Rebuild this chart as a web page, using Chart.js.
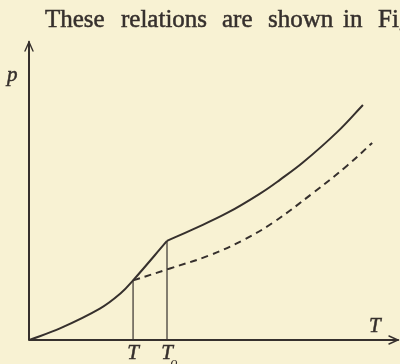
<!DOCTYPE html>
<html>
<head>
<meta charset="utf-8">
<script src="https://cdn.jsdelivr.net/npm/chart.js@4.4.1/dist/chart.umd.min.js"></script>
<style>
html,body{margin:0;padding:0;background:#f8f2d3}
#wrap{width:400px;height:364px;position:relative}
</style>
</head>
<body>
<div id="wrap"><canvas id="grafico" width="400" height="364"></canvas></div>
<script>
// temperatura (T) e pressão (p) em unidades arbitrárias
let curvaBaixaT=[0,0.84,1.92,2.47,2.82,3.74]
let curvaBaixaP=[0,0.31,0.84,1.24,1.60,2.66]

let curvaAltaT=[3.74,4.44,5.37,6.26,6.80,7.43,8.35,9.05]
let curvaAltaP=[2.66,2.97,3.41,3.93,4.30,4.77,5.58,6.31]

let tracejadaT=[2.82,3.82,4.91,5.80,6.61,7.70,8.62,9.30]
let tracejadaP=[1.60,1.92,2.28,2.68,3.15,3.95,4.68,5.29]

let marcasT=[2.82,3.74]
let marcasRotulo=['T','T']
let marcasIndice=['','o']

const COR='#36302d'

function pontos(xs,ys){
return xs.map((x,i)=>({x:x,y:ys[i]}))
}

let datasets=[
{data:pontos(curvaBaixaT,curvaBaixaP),borderColor:COR,borderWidth:2,tension:.4},
{data:pontos(curvaAltaT,curvaAltaP),borderColor:COR,borderWidth:2,tension:.4},
{data:pontos(tracejadaT,tracejadaP),borderColor:COR,borderWidth:2,borderDash:[7,5],tension:.4}
]

// linhas verticais até a curva
marcasT.forEach(t=>{
let i=curvaBaixaT.indexOf(t)
datasets.push({
data:[{x:t,y:0},{x:t,y:curvaBaixaP[i]}],
borderColor:COR,
borderWidth:1.2
})
})

let eixos={
id:'eixos',
beforeDraw(chart){
let c=chart.ctx
c.save()
c.fillStyle='#f8f2d3'
c.fillRect(0,0,chart.width,chart.height)
c.restore()
},
afterDraw(chart){
let c=chart.ctx
let sx=chart.scales.x
let sy=chart.scales.y
let x0=sx.getPixelForValue(0)
let y0=sy.getPixelForValue(0)
let topo=sy.getPixelForValue(sy.max)
let fim=sx.getPixelForValue(sx.max)

c.save()
c.strokeStyle=COR
c.fillStyle=COR
c.lineWidth=2
c.lineCap='round'

c.beginPath()
c.moveTo(x0,y0)
c.lineTo(x0,topo)
c.moveTo(x0,y0)
c.lineTo(fim,y0)
c.stroke()

// setas
c.lineWidth=1.4
c.beginPath()
c.moveTo(x0-4,topo+9)
c.lineTo(x0,topo)
c.lineTo(x0+4,topo+9)
c.moveTo(fim-9,y0-4)
c.lineTo(fim,y0)
c.lineTo(fim-9,y0+4)
c.stroke()

c.lineWidth=0.5
c.font='italic 21px "Liberation Serif", serif'
c.textBaseline='alphabetic'
c.textAlign='left'
c.fillText('p',7,81)
c.strokeText('p',7,81)
c.fillText('T',369,332)
c.strokeText('T',369,332)

c.textAlign='center'
marcasT.forEach((t,i)=>{
let px=sx.getPixelForValue(t)
c.font='italic 21px "Liberation Serif", serif'
c.fillText(marcasRotulo[i],px,359)
c.strokeText(marcasRotulo[i],px,359)
if(marcasIndice[i]){
c.font='italic 14px "Liberation Serif", serif'
c.fillText(marcasIndice[i],px+7,367)
}
})

// linha do texto acima da figura
c.font='25px "Liberation Serif", serif'
c.textAlign='left'
c.lineWidth=0.5
let palavras=['These','relations','are','shown','in','Fig.']
let posicoes=[45,121,222,268,343,378]
palavras.forEach((p,i)=>{
c.fillText(p,posicoes[i],27)
c.strokeText(p,posicoes[i],27)
})
c.restore()
}
}

new Chart(document.getElementById('grafico'),{
type:'scatter',
data:{datasets:datasets},
options:{
responsive:false,
animation:false,
showLine:true,
layout:{padding:{left:29,right:2,top:42,bottom:24}},
elements:{point:{radius:0},line:{fill:false}},
plugins:{legend:{display:false},tooltip:{enabled:false}},
scales:{
x:{type:'linear',min:0,max:10,display:false},
y:{type:'linear',min:0,max:8,display:false}
}
},
plugins:[eixos]
})
</script>
</body>
</html>
